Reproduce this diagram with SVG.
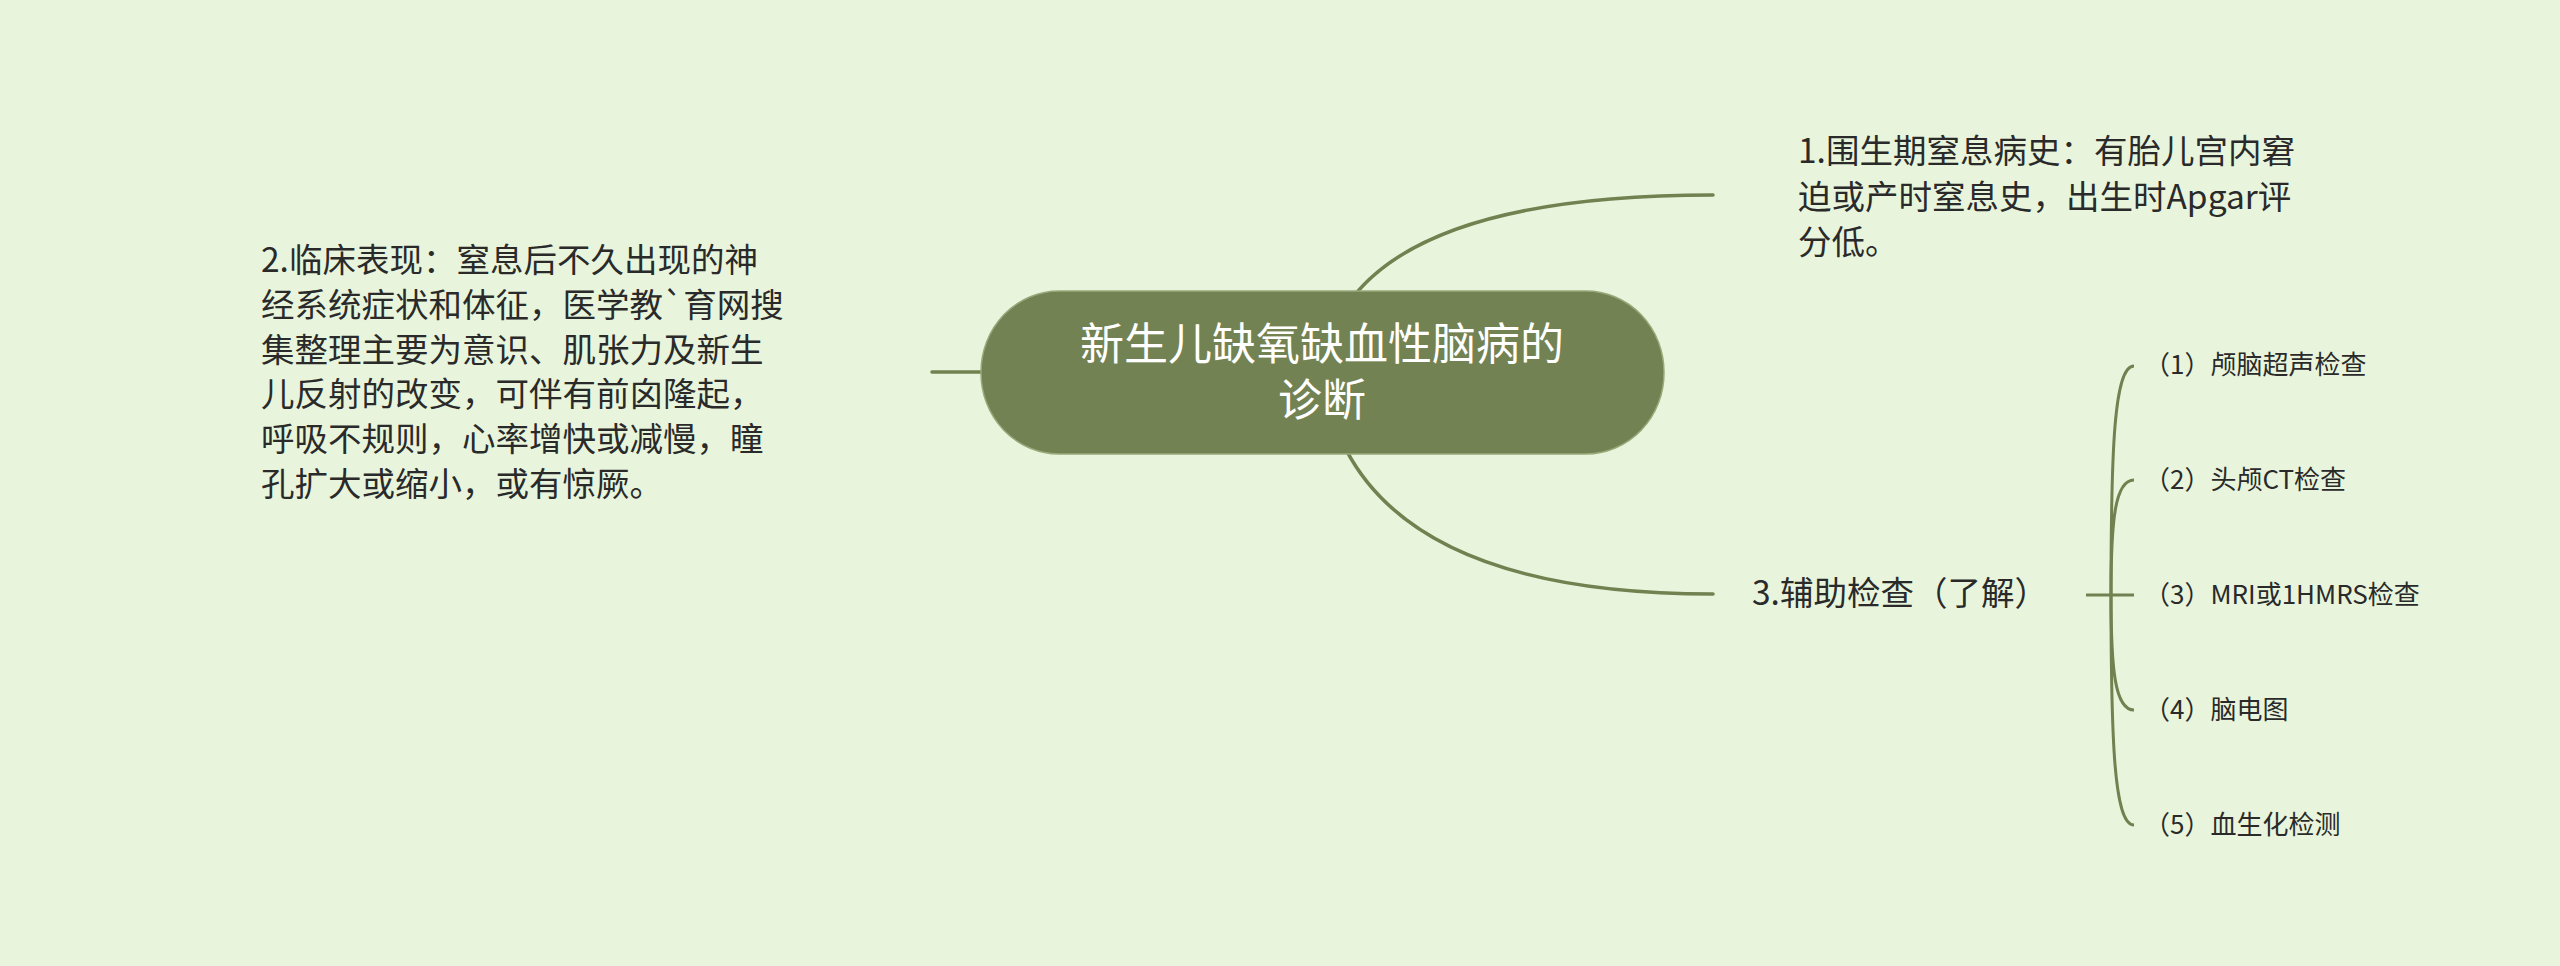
<svg xmlns="http://www.w3.org/2000/svg" width="2560" height="966" viewBox="0 0 2560 966">
<style>
.bg{fill:#e8f5dc}
.conn{fill:none;stroke:#718150;stroke-width:3.5;stroke-linecap:round}
.sub{fill:none;stroke:#718150;stroke-width:3}
.t{font-family:"Noto Sans CJK SC","Noto Sans",sans-serif;fill:#2a2a2a}
.n{font-size:33.5px}
.c{font-size:26px}
.root{font-family:"Noto Sans CJK SC","Noto Sans",sans-serif;font-size:44px;fill:#ffffff;text-anchor:middle}
</style>
<rect class="bg" x="0" y="0" width="2560" height="966"/>
<g id="connectors">
<path class="conn" d="M932 372 H1000"/>
<path class="conn" d="M1322 372 Q1345 195 1713 195"/>
<path class="conn" d="M1322 372 Q1352 594 1713 594"/>
<path class="sub" d="M2086 595 H2134"/>
<path class="sub" d="M2111 595 C2111 450 2114 366 2134 366"/>
<path class="sub" d="M2111 595 C2111 520 2115 480 2134 480"/>
<path class="sub" d="M2111 595 C2111 670 2115 710 2134 710"/>
<path class="sub" d="M2111 595 C2111 740 2114 825 2134 825"/>
</g>
<g id="root">
<rect x="981" y="291" width="683" height="163" rx="78" ry="81" fill="#738253" stroke="#9aa97a" stroke-width="1.5"/>
<text class="root" x="1322" y="360">新生儿缺氧缺血性脑病的<tspan x="1322" dy="56">诊断</tspan></text>
</g>
<g id="node1">
<text class="t n" x="1798" y="163">1.围生期窒息病史：有胎儿宫内窘<tspan x="1798" dy="46">迫或产时窒息史，出生时Apgar评</tspan><tspan x="1798" dy="45">分低。</tspan></text>
</g>
<g id="node2">
<text class="t n" x="261" y="272">2.临床表现：窒息后不久出现的神<tspan x="261" dy="44.8">经系统症状和体征，医学教`育网搜</tspan><tspan x="261" dy="44.8">集整理主要为意识、肌张力及新生</tspan><tspan x="261" dy="44.8">儿反射的改变，可伴有前囟隆起，</tspan><tspan x="261" dy="44.8">呼吸不规则，心率增快或减慢，瞳</tspan><tspan x="261" dy="44.8">孔扩大或缩小，或有惊厥。</tspan></text>
</g>
<g id="node3">
<text class="t n" x="1752" y="605">3.辅助检查（了解）</text>
</g>
<g id="child1"><text class="t c" x="2144" y="374">（1）颅脑超声检查</text></g>
<g id="child2"><text class="t c" x="2144" y="489">（2）头颅CT检查</text></g>
<g id="child3"><text class="t c" x="2144" y="604">（3）MRI或1HMRS检查</text></g>
<g id="child4"><text class="t c" x="2144" y="719">（4）脑电图</text></g>
<g id="child5"><text class="t c" x="2144" y="834">（5）血生化检测</text></g>
</svg>
